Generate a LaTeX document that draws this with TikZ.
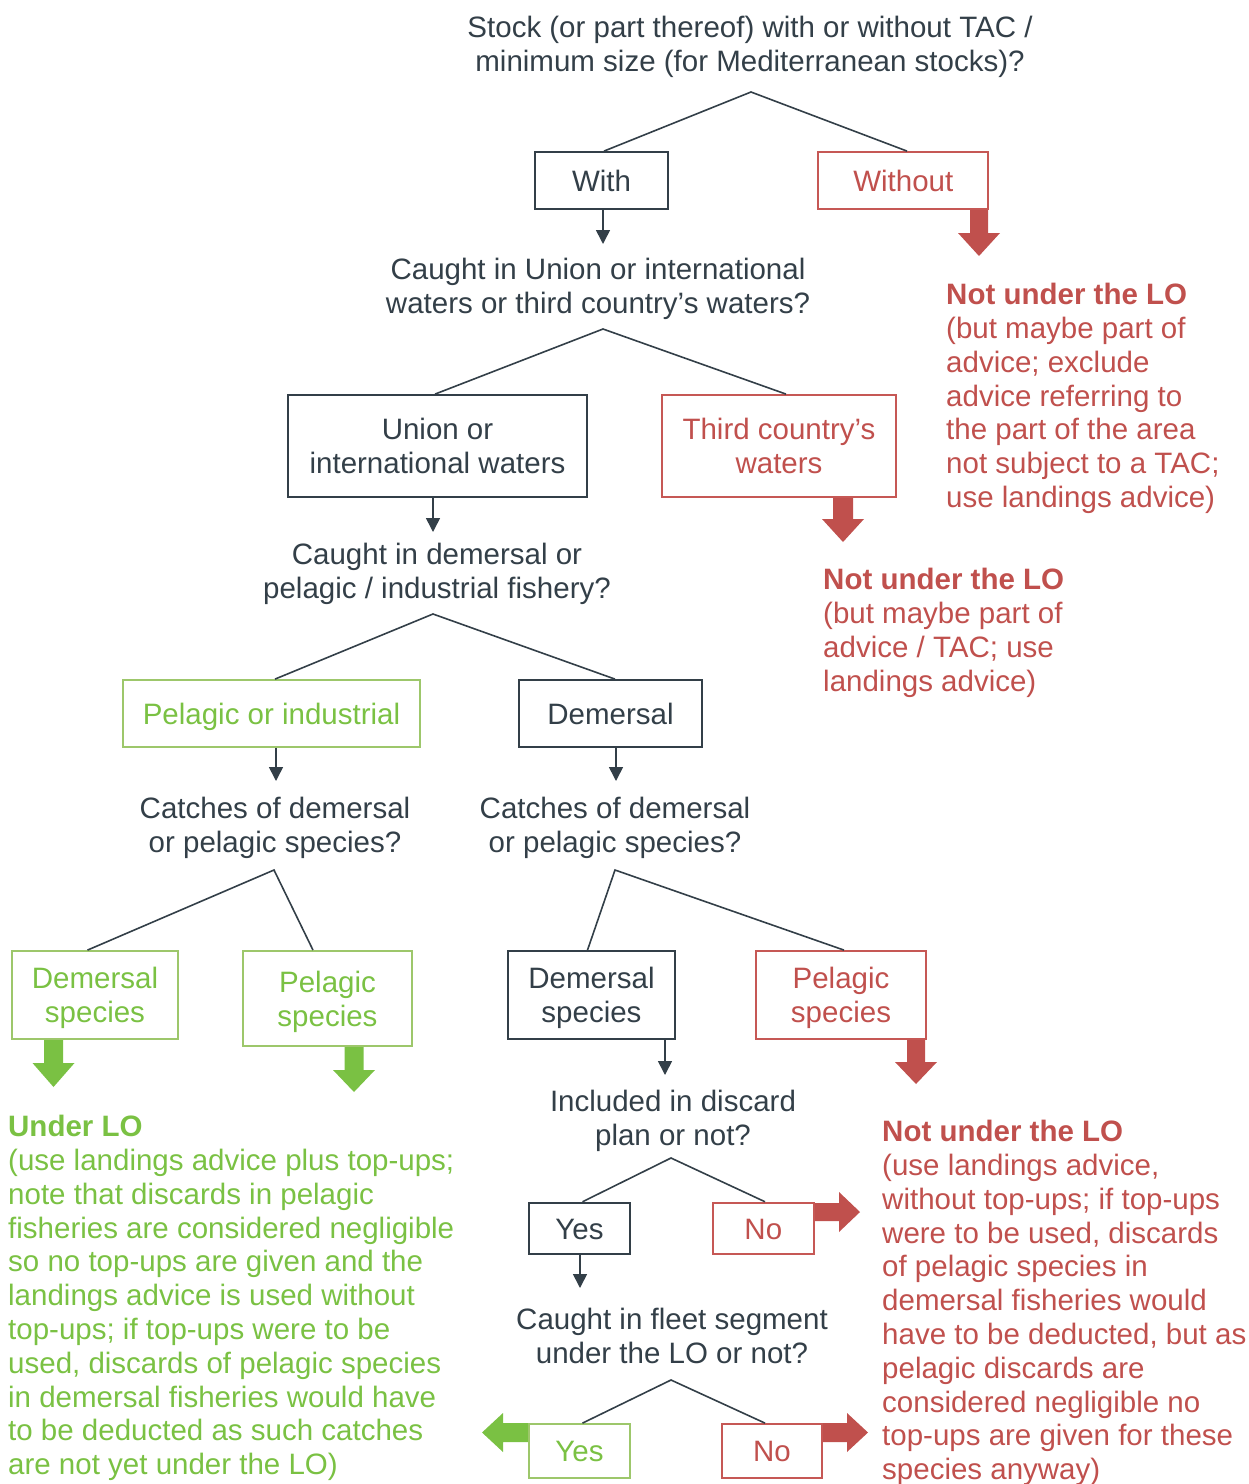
\documentclass[tikz,border=0pt]{standalone}
\usepackage{fontspec}
\setmainfont{Liberation Sans}
\usetikzlibrary{arrows.meta}
\definecolor{dk}{RGB}{51,63,72}
\definecolor{rd}{RGB}{192,80,77}
\definecolor{rdb}{RGB}{198,88,85}
\definecolor{gn}{RGB}{122,193,67}
\definecolor{gnb}{RGB}{157,199,107}
\newcommand\lnstrut{\rule[-6.1pt]{0pt}{33.6pt}}
% block arrows: colour, centre, start, head start, tip, shaft half width, head half width
\newcommand\BArrD[7]{\fill[#1] ({#2-#6},{#3}) -- ({#2+#6},{#3}) -- ({#2+#6},{#4}) -- ({#2+#7},{#4}) -- ({#2},{#5}) -- ({#2-#7},{#4}) -- ({#2-#6},{#4}) -- cycle;}
\newcommand\BArrH[7]{\fill[#1] ({#3},{#2-#6}) -- ({#3},{#2+#6}) -- ({#4},{#2+#6}) -- ({#4},{#2+#7}) -- ({#5},{#2}) -- ({#4},{#2-#7}) -- ({#4},{#2-#6}) -- cycle;}
\tikzset{
  txtfont/.style={font=\fontsize{29.5}{33.8}\selectfont},
  box/.style={draw, line width=1.8pt, inner sep=0pt, align=center, txtfont},
  dkbox/.style={box, draw=dk, text=dk},
  rdbox/.style={box, draw=rdb, text=rd},
  gnbox/.style={box, draw=gnb, text=gn},
  question/.style={inner sep=0pt, anchor=north, align=center, txtfont, text=dk},
  para/.style={inner sep=0pt, anchor=north west, align=left, txtfont},
  tree/.style={draw=dk, line width=1.6pt},
  thinarr/.style={tree, -{Triangle[length=14pt,width=14pt]}},
}
\begin{document}
\begin{tikzpicture}[x=1pt,y=-1pt]
\useasboundingbox (0,0) rectangle (1249,1484);

% questions
\node[question] (q1) at (750,9.5) {\lnstrut Stock (or part thereof) with or without TAC /\\\lnstrut minimum size (for Mediterranean stocks)?};
\node[question] (q2) at (598,252) {\lnstrut Caught in Union or international\\\lnstrut waters or third country’s waters?};
\node[question] (q3) at (437,537) {\lnstrut Caught in demersal or\\\lnstrut pelagic / industrial fishery?};
\node[question] (q4l) at (275,791) {\lnstrut Catches of demersal\\\lnstrut or pelagic species?};
\node[question] (q4r) at (615,791) {\lnstrut Catches of demersal\\\lnstrut or pelagic species?};
\node[question] (q5) at (673,1084) {\lnstrut Included in discard\\\lnstrut plan or not?};
\node[question] (q6) at (672,1302) {\lnstrut Caught in fleet segment\\\lnstrut under the LO or not?};

% apex coordinates and arrow tips
\coordinate (a1) at (751,92);
\coordinate (a2) at (603,329);
\coordinate (a3) at (433,614);
\coordinate (a4l) at (274,870);
\coordinate (a4r) at (615,870);
\coordinate (a5) at (671,1158);
\coordinate (a6) at (671,1380);
\coordinate (t1) at (603,244);
\coordinate (t2) at (433,532);
\coordinate (t3) at (276,781);
\coordinate (t4) at (616,781);
\coordinate (t5) at (665,1075);
\coordinate (t6) at (580,1288);

% block arrows (drawn first)
\BArrD{rd}{979}{209}{233}{256}{9}{21}
\BArrD{rd}{843}{497}{519}{542}{10}{21}
\BArrD{gn}{53.5}{1039}{1063}{1087}{9.5}{21}
\BArrD{gn}{354}{1046}{1070}{1092}{9.5}{21}
\BArrD{rd}{916}{1039}{1062}{1084}{9}{21}
\BArrH{rd}{1212}{814}{839}{860}{9}{20}
\BArrH{rd}{1432.5}{822}{847}{868}{9.5}{19.5}
\BArrH{gn}{1432.5}{529}{503}{482}{9.5}{19.5}

% boxes
\node[dkbox, minimum width=133pt, minimum height=57pt] (with) at (601.5,180.5) {\lnstrut With};
\node[rdbox, minimum width=170pt, minimum height=57pt] (without) at (903.3,180.5) {\lnstrut Without};
\node[dkbox, minimum width=299pt, minimum height=102pt] (union) at (437.5,446) {\lnstrut Union or\\\lnstrut international waters};
\node[rdbox, minimum width=234pt, minimum height=102pt] (third) at (779,446) {\lnstrut Third country’s\\\lnstrut waters};
\node[gnbox, minimum width=297pt, minimum height=67pt] (pel) at (271.5,713.5) {\lnstrut Pelagic or industrial};
\node[dkbox, minimum width=183pt, minimum height=67pt] (dem) at (610.5,713.5) {\lnstrut Demersal};
\node[gnbox, minimum width=166pt, minimum height=88pt] (gdem) at (95,995) {\lnstrut Demersal\\\lnstrut species};
\node[gnbox, minimum width=169pt, minimum height=95pt] (gpel) at (327.5,998.5) {\lnstrut Pelagic\\\lnstrut species};
\node[dkbox, minimum width=167pt, minimum height=88pt] (ddem) at (591.5,995) {\lnstrut Demersal\\\lnstrut species};
\node[rdbox, minimum width=170pt, minimum height=88pt] (rpel) at (841,995) {\lnstrut Pelagic\\\lnstrut species};
\node[dkbox, minimum width=101pt, minimum height=51.3pt] (yes1) at (579.5,1228.3) {\lnstrut Yes};
\node[rdbox, minimum width=101.3pt, minimum height=51.3pt] (no1) at (763.3,1228.3) {\lnstrut No};
\node[gnbox, minimum width=101pt, minimum height=54pt] (yes2) at (579.5,1451) {\lnstrut Yes};
\node[rdbox, minimum width=100pt, minimum height=54pt] (no2) at (772,1451) {\lnstrut No};

% tree lines
\draw[tree] ([xshift=2.5pt]with.north) -- (a1) -- ([xshift=3.7pt]without.north);
\draw[tree] ([xshift=-2.5pt]union.north) -- (a2) -- ([xshift=7pt]third.north);
\draw[tree] ([xshift=3.5pt]pel.north) -- (a3) -- ([xshift=4.5pt]dem.north);
\draw[tree] ([xshift=-7.5pt]gdem.north) -- (a4l) -- ([xshift=-14.5pt]gpel.north);
\draw[tree] ([xshift=-4pt]ddem.north) -- (a4r) -- ([xshift=3pt]rpel.north);
\draw[tree] ([xshift=3pt]yes1.north) -- (a5) -- ([xshift=1.7pt]no1.north);
\draw[tree] ([xshift=3pt]yes2.north) -- (a6) -- ([xshift=-7pt]no2.north);

% thin arrows
\draw[thinarr] (with.south -| t1) -- (t1);
\draw[thinarr] (union.south -| t2) -- (t2);
\draw[thinarr] (pel.south -| t3) -- (t3);
\draw[thinarr] (dem.south -| t4) -- (t4);
\draw[thinarr] (ddem.south -| t5) -- (t5);
\draw[thinarr] (yes1.south -| t6) -- (t6);

% outcome texts
\node[para, text=rd] (out1) at (946,277) {\lnstrut\textbf{Not under the LO}\\\lnstrut(but maybe part of\\\lnstrut advice; exclude\\\lnstrut advice referring to\\\lnstrut the part of the area\\\lnstrut not subject to a TAC;\\\lnstrut use landings advice)};
\node[para, text=rd] (out2) at (823,562) {\lnstrut\textbf{Not under the LO}\\\lnstrut(but maybe part of\\\lnstrut advice / TAC; use\\\lnstrut landings advice)};
\node[para, text=gn] (out3) at (8,1109) {\lnstrut\textbf{Under LO}\\\lnstrut(use landings advice plus top-ups;\\\lnstrut note that discards in pelagic\\\lnstrut fisheries are considered negligible\\\lnstrut so no top-ups are given and the\\\lnstrut landings advice is used without\\\lnstrut top-ups; if top-ups were to be\\\lnstrut used, discards of pelagic species\\\lnstrut in demersal fisheries would have\\\lnstrut to be deducted as such catches\\\lnstrut are not yet under the LO)};
\node[para, text=rd] (out4) at (882,1114) {\lnstrut\textbf{Not under the LO}\\\lnstrut(use landings advice,\\\lnstrut without top-ups; if top-ups\\\lnstrut were to be used, discards\\\lnstrut of pelagic species in\\\lnstrut demersal fisheries would\\\lnstrut have to be deducted, but as\\\lnstrut pelagic discards are\\\lnstrut considered negligible no\\\lnstrut top-ups are given for these\\\lnstrut species anyway)};
\end{tikzpicture}
\end{document}
